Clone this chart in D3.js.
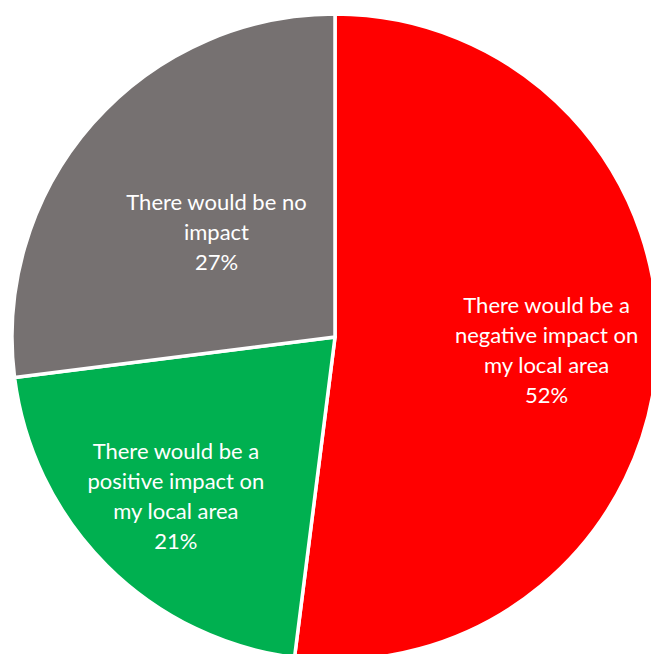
<!DOCTYPE html>
<html>
<head>
<meta charset="utf-8">
<script src="https://cdn.jsdelivr.net/npm/d3@7"></script>
<style>
  html, body { margin: 0; padding: 0; background: #fff; }
  svg { display: block; }
</style>
</head>
<body>
<svg id="chart" width="651" height="654"></svg>
<script>
// Responses: perceived impact on the local area
const categories = [
  ["There would be a", "negative impact on", "my local area"],
  ["There would be a", "positive impact on", "my local area"],
  ["There would be no", "impact"]
];
const values = [52, 21, 27];
const colors = ["#FF0000", "#00B050", "#767171"];

const svg = d3.select("#chart");
const cx = 335, cy = 337, radius = 323;
const g = svg.append("g").attr("transform", `translate(${cx},${cy})`);

const pie = d3.pie().sort(null).value(d => d)(values);
const arc = d3.arc().innerRadius(0).outerRadius(radius);

g.selectAll("path.slice")
  .data(pie)
  .join("path")
  .attr("class", "slice")
  .attr("d", arc)
  .attr("fill", (d, i) => colors[i])
  .attr("stroke", "#fff")
  .attr("stroke-width", 3.5)
  .attr("stroke-linejoin", "round");

// label distance from centre for each slice
const labelR = [212, 225, 158];
const lineH = 30;

pie.forEach((d, i) => {
  const a = (d.startAngle + d.endAngle) / 2;
  const x = Math.sin(a) * labelR[i];
  const y = -Math.cos(a) * labelR[i];
  const lines = categories[i].concat([values[i] + "%"]);
  const t = g.append("text")
    .attr("text-anchor", "middle")
    .attr("fill", "#fff")
    .style("font-family", "Lato, 'Open Sans', sans-serif")
    .style("font-size", "22px");
  const y0 = y - (lines.length - 1) * lineH / 2;
  lines.forEach((ln, k) => {
    t.append("tspan")
      .attr("x", x)
      .attr("y", y0 + k * lineH)
      .attr("dy", "0.35em")
      .text(ln);
  });
});
</script>
</body>
</html>
